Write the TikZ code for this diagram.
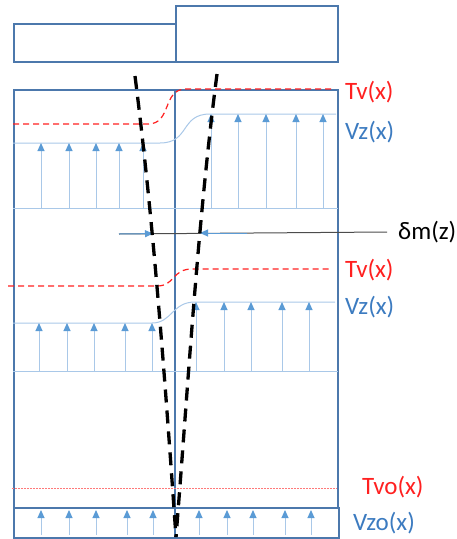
\documentclass[tikz,border=0pt]{standalone}
\usepackage{fontspec}
\setmainfont{Carlito}
\usetikzlibrary{arrows.meta}
\definecolor{boxblue}{HTML}{4C78AC}
\definecolor{lineblue}{HTML}{A9C8E8}
\definecolor{arrblue}{HTML}{5B9BD5}
\definecolor{txtblue}{HTML}{3C7BC0}
\definecolor{myred}{HTML}{FF2020}
\begin{document}
\begin{tikzpicture}[x=1pt,y=-1pt,
  frame/.style={draw=boxblue,line width=1.5pt},
  vzline/.style={draw=lineblue,line width=1pt},
  uparrow/.style={draw=lineblue,line width=1pt,-{Triangle[width=7pt,length=8pt,color=arrblue]}},
  tvline/.style={draw=myred,dash pattern=on 6pt off 4pt,line width=1.2pt},
  border/.style={draw=black,line width=3.3pt,dash pattern=on 13pt off 8pt},
  lab/.style={font=\fontsize{25}{28}\selectfont,anchor=west,inner sep=0pt}]
\useasboundingbox (0,0) rectangle (456,539);
% top boxes
\node[frame,minimum width=162pt,minimum height=38pt,anchor=north west,inner sep=0pt] (tl) at (13,23) {};
\node[frame,minimum width=162pt,minimum height=56pt,anchor=north west,inner sep=0pt] (tr) at (175,5) {};
% main box and bottom box
\node[frame,minimum width=324pt,minimum height=418pt,anchor=north west,inner sep=0pt] (main) at (13,89) {};
\node[frame,line width=1.8pt,minimum width=325pt,minimum height=30pt,anchor=north west,inner sep=0pt] (bot) at (13,507) {};
\coordinate (ctop) at (175,89);
\coordinate (cbot) at (175,537);
\draw[frame,line width=1.3pt] (ctop) -- (cbot);
% section 1
\draw[vzline] (13,208) -- (338,208);
\draw[vzline] (13,143) -- (160,143) .. controls (190,143) and (180,114) .. (210,114) -- (336,114);
\draw[tvline] (13,124) -- (148,124) .. controls (172,124) and (162,89) .. (186,89) -- (335,89);
\foreach \x in {41,69,96,119,143} \draw[uparrow] (\x,208) -- (\x,143);
\foreach \x in {211,238,266,296,323} \draw[uparrow] (\x,208) -- (\x,114);
% section 2
\draw[vzline] (13,371) -- (338,371);
\draw[vzline] (13,323) -- (152,323) .. controls (172,323) and (172,302) .. (195,302) -- (335,302);
\draw[tvline] (8,286) -- (157,286) .. controls (175,286) and (172,269) .. (192,269) -- (330,269);
\foreach \x in {39,67,94,125,152} \draw[uparrow] (\x,371) -- (\x,323);
\foreach \x in {196,224,251,282,309} \draw[uparrow] (\x,371) -- (\x,302);
% section 3
\draw[myred!60,line width=0.7pt,dash pattern=on 1.5pt off 1.5pt] (12,488) -- (337,488);
\foreach \x in {41,69,96,127,153,199,227,253,285,311} \draw[uparrow] (\x,535) -- (\x,510);
% delta m
\coordinate (dmL) at (119,234);
\coordinate (dmR) at (387,232);
\draw[draw=black!70,line width=1pt] (dmL) -- (dmR);
\draw[draw=arrblue,line width=1pt,-{Triangle[width=7pt,length=8pt]}] (dmL) -- (153,233.6);
\draw[draw=arrblue,line width=1pt,-{Triangle[width=7pt,length=8pt]}] (247,233) -- (200,233);
% front boundaries
\draw[border] (135,76) .. controls (154,226) and (165.5,387) .. (176,537);
\draw[border] (217,74) .. controls (197.5,224) and (188,387) .. (176,537);
% labels
\node[lab,text=myred] (tv1) at (345,92) {Tv(x)};
\node[lab,text=txtblue] (vz1) at (345,132) {Vz(x)};
\node[lab,text=black] (dm) at (398,232) {δm(z)};
\node[lab,text=myred] (tv2) at (345,270) {Tv(x)};
\node[lab,text=txtblue] (vz2) at (345,307) {Vz(x)};
\node[lab,text=myred] (tvo) at (362,487) {Tvo(x)};
\node[lab,text=txtblue] (vzo) at (353,523) {Vzo(x)};
\end{tikzpicture}
\end{document}
